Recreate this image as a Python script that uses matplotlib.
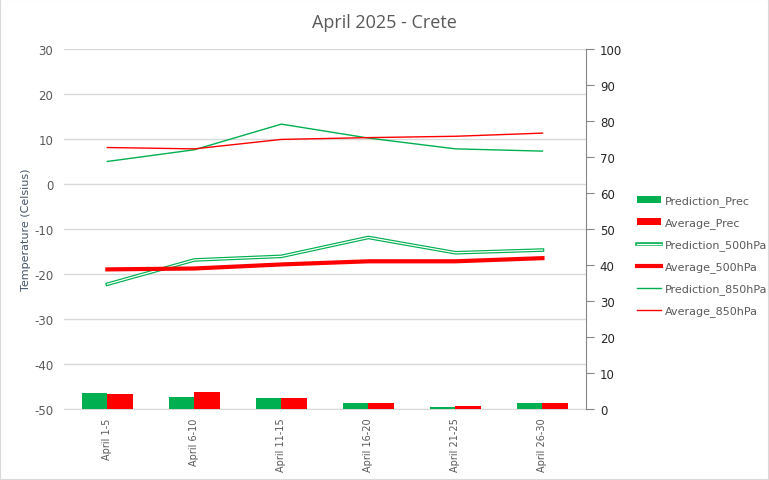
import matplotlib
matplotlib.use('Agg')
import matplotlib.pyplot as plt
import matplotlib.patheffects as pe
import numpy as np

categories = ['April 1-5', 'April 6-10', 'April 11-15', 'April 16-20', 'April 21-25', 'April 26-30']

# precipitation (right axis)
pred_prec = [4.5, 3.4, 2.9, 1.5, 0.4, 1.5]
avg_prec = [4.0, 4.8, 2.9, 1.75, 0.7, 1.5]

# temperatures (left axis)
pred_500 = [-22.3, -16.9, -16.1, -11.9, -15.3, -14.7]
avg_500 = [-19.0, -18.8, -17.9, -17.2, -17.2, -16.5]
pred_850 = [5.0, 7.6, 13.3, 10.2, 7.8, 7.3]
avg_850 = [8.1, 7.8, 9.9, 10.3, 10.6, 11.3]

green = '#00B050'
red = '#FF0000'
txt = '#595959'

plt.rcParams['font.family'] = ['DejaVu Sans']
plt.rcParams['axes.unicode_minus'] = False

fig = plt.figure(figsize=(7.69, 4.81), dpi=100)
ax = fig.add_axes([0.083, 0.148, 0.679, 0.748])
ax2 = ax.twinx()

x = np.arange(len(categories))

# lines on temperature axis
ax.plot(x, pred_500, color=green, lw=1.0,
        path_effects=[pe.Stroke(linewidth=2.6, foreground=green), pe.Stroke(linewidth=0.9, foreground='white')],
        label='Prediction_500hPa', zorder=3)
ax.plot(x, avg_500, color=red, lw=3, label='Average_500hPa', zorder=3)
ax.plot(x, pred_850, color=green, lw=1.0, label='Prediction_850hPa', zorder=3)
ax.plot(x, avg_850, color=red, lw=1.0, label='Average_850hPa', zorder=3)

# bars on precipitation axis
w = 0.29
ax2.bar(x - w / 2, pred_prec, width=w, color=green, label='Prediction_Prec')
ax2.bar(x + w / 2, avg_prec, width=w, color=red, label='Average_Prec')

ax.set_xlim(-0.5, 5.5)
ax.set_ylim(-50, 30)
ax.set_yticks(np.arange(-50, 31, 10))
ax2.set_ylim(0, 100)
ax2.set_yticks(np.arange(0, 101, 10))

ax.grid(axis='y', color='#d9d9d9', lw=1)
ax.set_axisbelow(True)
ax.set_xticks(x)
ax.set_xticklabels(categories, rotation=90, fontsize=7, color=txt)
ax.tick_params(axis='x', length=0, pad=6)
ax.tick_params(axis='y', length=0, labelsize=8.5, labelcolor=txt, pad=7.5)
ax2.tick_params(axis='y', length=6, color='#868686', labelsize=8.5, labelcolor='#262626', pad=4)

for s in ['top', 'left', 'right']:
    ax.spines[s].set_visible(False)
for s in ['top', 'left', 'bottom']:
    ax2.spines[s].set_visible(False)
ax.spines['bottom'].set_color('#d9d9d9')
ax2.spines['right'].set_color('#868686')

ax.set_ylabel('Temperature (Celsius)', fontsize=8, color='#44546A', labelpad=2)
fig.text(0.5, 0.952, 'April 2025 - Crete', ha='center', va='center',
         fontsize=13, color=txt, family=['Open Sans', 'DejaVu Sans'])

h1, l1 = ax.get_legend_handles_labels()
h2, l2 = ax2.get_legend_handles_labels()
fig.legend(h2 + h1, l2 + l1, loc='center left', bbox_to_anchor=(0.815, 0.466),
           frameon=False, fontsize=8, labelcolor=txt, handlelength=2.2,
           handletextpad=0.3, labelspacing=1.0)

fig.patches.append(plt.Rectangle((0, 0), 1, 1, transform=fig.transFigure,
                                 fill=False, edgecolor='#d9d9d9', lw=1.5))

fig.savefig('out.png', dpi=100)
